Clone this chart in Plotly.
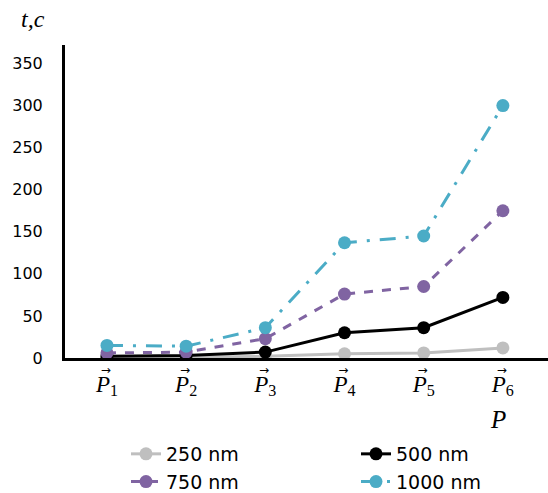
import plotly.graph_objects as go

categories = ["P1", "P2", "P3", "P4", "P5", "P6"]
tick_labels = ["<i>P</i><sub>%d</sub>" % i for i in range(1, 7)]
arrow_labels = ["\u2192\u2009"] * 6
y_250 = [1, 1, 2, 5, 6, 12]
y_500 = [2, 3, 7, 30, 36, 72]
y_750 = [6, 7, 23, 76, 85, 175]
y_1000 = [15, 14, 36, 137, 145, 300]
y_ticks = [0, 50, 100, 150, 200, 250, 300, 350]

series = [
    ("250 nm", y_250, "#BFBFBF", "solid", "legend"),
    ("500 nm", y_500, "#000000", "solid", "legend2"),
    ("750 nm", y_750, "#8064A2", "dash", "legend"),
    ("1000 nm", y_1000, "#4BACC6", "16px,10px,3px,10px", "legend2"),
]

fig = go.Figure()
for name, ys, color, dash, lg in series:
    fig.add_trace(go.Scatter(
        x=categories, y=ys, name=name, mode="lines+markers", legend=lg,
        line=dict(color=color, width=3, dash=dash),
        marker=dict(color=color, size=13),
    ))

# helper trace so the arrow axis (vector marks above P) is drawn
fig.add_trace(go.Scatter(x=categories, y=y_250, xaxis="x2", mode="markers",
                         marker=dict(opacity=0), showlegend=False, hoverinfo="skip"))

legend_common = dict(
    orientation="v", xref="container", yref="container", xanchor="left", yanchor="top",
    font=dict(family="DejaVu Sans", size=19, color="#000"),
    traceorder="normal", tracegroupgap=0, itemwidth=30, bgcolor="rgba(0,0,0,0)",
)

fig.update_layout(
    width=548, height=493,
    margin=dict(l=65, r=0, t=45, b=135, autoexpand=False),
    plot_bgcolor="white", paper_bgcolor="white",
    showlegend=True,
    legend=dict(legend_common, x=126 / 548, y=1 - 435 / 493),
    legend2=dict(legend_common, x=356 / 548, y=1 - 435 / 493),
    xaxis=dict(
        range=[-0.53, 5.57], tickmode="array", tickvals=categories, ticktext=tick_labels,
        showline=True, linecolor="black", linewidth=3, showgrid=False, zeroline=False,
        ticks="", ticklabelstandoff=3, automargin=False,
        tickfont=dict(family="Liberation Serif", size=23, color="#000"),
    ),
    xaxis2=dict(
        range=[-0.53, 5.57], overlaying="x", anchor="y", side="bottom",
        tickmode="array", tickvals=categories, ticktext=arrow_labels,
        showline=False, showgrid=False, zeroline=False, ticks="",
        ticklabelstandoff=3, automargin=False,
        tickfont=dict(family="DejaVu Sans", size=12, color="#000"),
    ),
    yaxis=dict(
        range=[0, 372], tickmode="array", tickvals=y_ticks,
        showline=True, linecolor="black", linewidth=3, showgrid=False, zeroline=False,
        ticks="", ticklabelstandoff=16, automargin=False,
        tickfont=dict(family="DejaVu Sans", size=16, color="#000"),
    ),
    annotations=[
        dict(text="<i>t,c</i>", xref="paper", yref="paper", x=-0.095, y=1.0, yshift=26,
             showarrow=False, xanchor="left", yanchor="middle",
             font=dict(family="Liberation Serif", size=24, color="#000")),
        dict(text="<i>P</i>", xref="paper", yref="paper", x=0.896, y=-0.198,
             showarrow=False, xanchor="center", yanchor="middle",
             font=dict(family="Liberation Serif", size=25, color="#000")),
    ],
)

fig.write_html("out.html", config={"displayModeBar": False},
               post_script="document.body.style.margin='0px';")
